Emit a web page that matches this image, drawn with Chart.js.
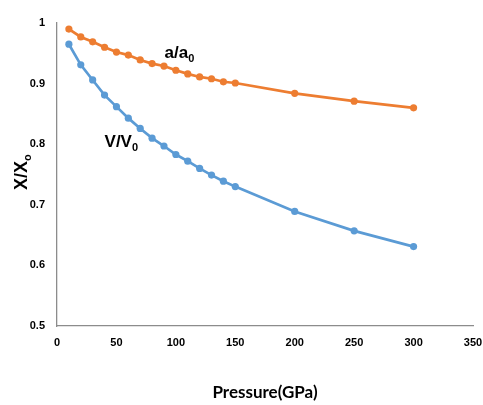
<!DOCTYPE html>
<html>
<head>
<meta charset="utf-8">
<script src="https://cdn.jsdelivr.net/npm/chart.js@4.4.1/dist/chart.umd.min.js"></script>
<style>
  html, body { margin: 0; padding: 0; background: #fff; }
  #wrap { width: 483px; height: 405px; }
</style>
</head>
<body>
<div id="wrap"><canvas id="myChart" width="483" height="405"></canvas></div>
<script>
// pressure points (GPa)
var pressure = [10, 20, 30, 40, 50, 60, 70, 80, 90, 100, 110, 120, 130, 140, 150, 200, 250, 300];
// lattice ratio a/a0
var aRatio = [0.990, 0.977, 0.969, 0.960, 0.952, 0.947, 0.939, 0.933, 0.929, 0.922, 0.916, 0.911, 0.908, 0.903, 0.901, 0.884, 0.871, 0.860];
// volume ratio V/V0
var vRatio = [0.965, 0.931, 0.906, 0.881, 0.862, 0.843, 0.826, 0.810, 0.797, 0.783, 0.772, 0.760, 0.749, 0.739, 0.730, 0.689, 0.657, 0.631];
var xTicks = [0, 50, 100, 150, 200, 250, 300, 350];
var yTicks = [0.5, 0.6, 0.7, 0.8, 0.9, 1];

var tickFont = "'Liberation Sans Narrow', 'Liberation Sans', sans-serif";

function toPoints(xs, ys) {
    var pts = [];
    for (var i = 0; i < xs.length; i++) pts.push({x: xs[i], y: ys[i]});
    return pts;
}

// draw "main" + subscript "sub" starting at x, baseline y
function drawSub(ctx, main, sub, x, y, size, fam) {
    ctx.font = "bold " + size + "px " + fam;
    ctx.textBaseline = "alphabetic";
    ctx.textAlign = "left";
    ctx.fillText(main, x, y);
    var w = ctx.measureText(main).width;
    ctx.font = "bold " + Math.round(size * 0.62) + "px " + fam;
    ctx.fillText(sub, x + w, y + size * 0.2);
}

var labelsPlugin = {
    id: "curveLabels",
    afterDatasetsDraw: function(chart) {
        var ctx = chart.ctx;
        var xs = chart.scales.x, ys = chart.scales.y;
        ctx.save();
        ctx.fillStyle = "#000";
        drawSub(ctx, "a/a", "0", xs.getPixelForValue(90.5), ys.getPixelForValue(0.942), 17, tickFont);
        drawSub(ctx, "V/V", "0", xs.getPixelForValue(40), ys.getPixelForValue(0.795), 17, tickFont);
        // y axis title, rotated
        ctx.translate(21, 172);
        ctx.rotate(-Math.PI / 2);
        ctx.font = "bold 18px " + tickFont;
        var w = ctx.measureText("X/X").width + 7;
        drawSub(ctx, "X/X", "o", -w / 2, 6, 18, tickFont);
        ctx.restore();
    }
};

var ctx = document.getElementById("myChart").getContext("2d");
var chart = new Chart(ctx, {
    type: "scatter",
    data: {
        datasets: [
            {
                label: "a/a0",
                data: toPoints(pressure, aRatio),
                showLine: true,
                borderColor: "#ED7D31",
                backgroundColor: "#ED7D31",
                borderWidth: 2.7,
                pointRadius: 3.6,
                pointBorderWidth: 0
            },
            {
                label: "V/V0",
                data: toPoints(pressure, vRatio),
                showLine: true,
                borderColor: "#5B9BD5",
                backgroundColor: "#5B9BD5",
                borderWidth: 2.7,
                pointRadius: 3.6,
                pointBorderWidth: 0
            }
        ]
    },
    options: {
        responsive: false,
        animation: false,
        layout: { padding: { top: 23, right: 10, left: 0, bottom: 0 } },
        plugins: {
            legend: { display: false },
            tooltip: { enabled: false }
        },
        scales: {
            x: {
                type: "linear",
                min: 0, max: 350,
                afterBuildTicks: function(s) { s.ticks = xTicks.map(function(v){ return {value: v}; }); },
                afterFit: function(s) { s.height = 79; s.paddingLeft = 0; s.paddingRight = 0; },
                grid: { display: false, drawTicks: false },
                border: { display: true, color: "#8c8c8c", width: 1.3 },
                ticks: { color: "#000", padding: 10, maxRotation: 0, font: { family: tickFont, size: 11, weight: "bold" } },
                title: {
                    display: true,
                    text: "Pressure(GPa)",
                    color: "#000",
                    font: { family: "Lato, sans-serif", size: 17, weight: "bold" },
                    padding: { top: 0, bottom: 2 }
                }
            },
            y: {
                type: "linear",
                min: 0.5, max: 1,
                afterBuildTicks: function(s) { s.ticks = yTicks.map(function(v){ return {value: v}; }); },
                afterFit: function(s) { s.width = 57; s.paddingTop = 0; s.paddingBottom = 0; },
                grid: { display: false, drawTicks: false },
                border: { display: true, color: "#8c8c8c", width: 1.3 },
                ticks: { color: "#000", padding: 12, font: { family: tickFont, size: 11, weight: "bold" },
                         callback: function(v) { return String(v); } }
            }
        }
    },
    plugins: [labelsPlugin]
});
</script>
</body>
</html>
